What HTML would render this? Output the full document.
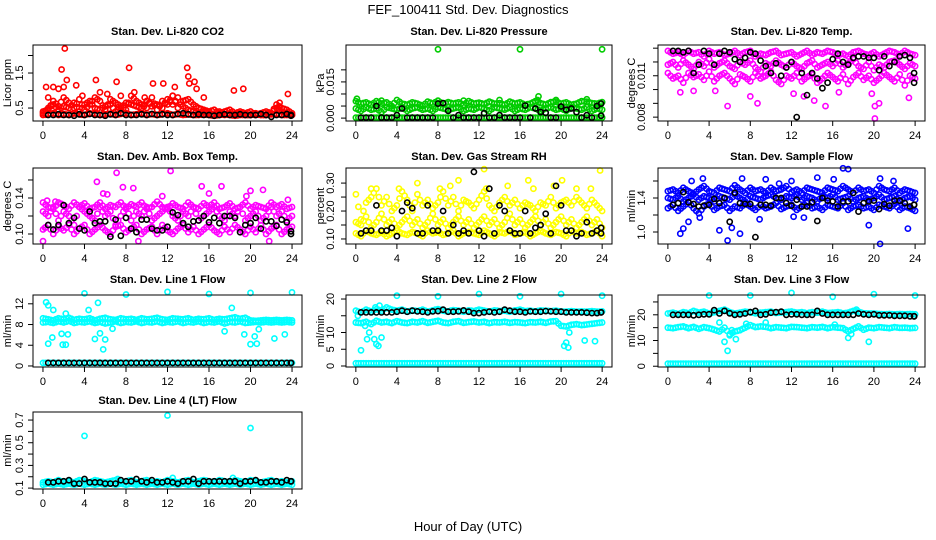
<!DOCTYPE html>
<html><head><meta charset="utf-8"><style>
html,body{margin:0;padding:0;background:#fff;}
svg{display:block;font-family:"Liberation Sans",sans-serif;}
</style></head><body>
<svg id="chart" width="936" height="540" viewBox="0 0 936 540">
<text x="468" y="14" text-anchor="middle" font-size="13">FEF_100411  Std. Dev. Diagnostics</text>
<text x="468" y="531" text-anchor="middle" font-size="13">Hour of Day (UTC)</text>
</svg>
<script>
const H = [0,0.5,1,1.5,2,2.5,3,3.5,4,4.5,5,5.5,6,6.5,7,7.5,8,8.5,9,9.5,10,10.5,11,11.5,12,12.5,13,13.5,14,14.5,15,15.5,16,16.5,17,17.5,18,18.5,19,19.5,20,20.5,21,21.5,22,22.5,23,23.5,24];
const xTicks = [0,4,8,12,16,20,24];

// Panel 1: CO2
const co2A = [0.35,0.5,0.6,0.45,0.55,0.5,0.65,0.4,0.6,0.7,0.5,0.45,0.55,0.6,0.4,0.5,0.65,0.6,0.55,0.5,0.7,0.55,0.6,0.5,0.75,0.6,0.8,0.55,0.45,0.4,0.35,0.4,0.35,0.3,0.4,0.3,0.35,0.3,0.35,0.3,0.3,0.35,0.3,0.3,0.35,0.5,0.4,0.35,0.3];
const co2B = [0.3,0.32,0.35,0.3,0.33,0.3,0.35,0.32,0.3,0.35,0.33,0.3,0.32,0.34,0.3,0.33,0.35,0.3,0.32,0.35,0.3,0.33,0.3,0.32,0.35,0.3,0.33,0.3,0.32,0.3,0.3,0.32,0.3,0.28,0.3,0.32,0.3,0.28,0.3,0.3,0.3,0.32,0.3,0.3,0.32,0.33,0.3,0.3,0.3];
const co2C = [0.4,0.45,0.7,0.55,0.8,0.65,0.5,0.75,0.45,0.6,0.8,0.7,0.45,0.75,0.65,0.55,0.45,0.85,0.7,0.6,0.5,0.8,0.45,0.7,0.6,0.85,0.5,0.7,0.75,0.6,0.5,0.45,0.4,0.45,0.35,0.4,0.45,0.35,0.4,0.35,0.4,0.3,0.35,0.4,0.35,0.6,0.5,0.45,0.35];
const co2OutH = [0.3,0.5,1,1.5,1.8,2,2.1,2.3,3.2,3.8,5.1,5.5,7.1,7.5,8.3,8.8,10.6,11.6,12.7,13.9,14,14.1,14.6,14.8,15.5,18.4,19.3,22.8,23.6,6.2,9.8,12.5];
const co2OutV = [1.1,0.8,1.1,1.05,1.6,1.1,2.2,1.3,1.15,0.85,1.3,0.95,1.25,0.85,1.65,0.95,1.2,1.2,1.1,1.65,1.4,1.2,1.25,1.05,0.8,1.0,1.05,0.65,0.9,0.9,0.8,0.85];
const co2K = [0.3,0.3,0.32,0.3,0.3,0.28,0.32,0.3,0.33,0.3,0.3,0.28,0.32,0.3,0.35,0.3,0.3,0.3,0.32,0.3,0.33,0.3,0.32,0.3,0.3,0.33,0.35,0.32,0.3,0.32,0.3,0.3,0.28,0.3,0.32,0.3,0.3,0.32,0.3,0.3,0.3,0.33,0.3,0.25,0.3,0.3,0.33,0.3,0.28];

// Panel 2: Pressure
const prA = [0.007,0.006,0.0065,0.0055,0.007,0.006,0.0065,0.005,0.0075,0.006,0.0055,0.0065,0.006,0.005,0.0068,0.006,0.0072,0.0058,0.0066,0.006,0.0065,0.0055,0.007,0.006,0.0064,0.0058,0.0068,0.006,0.0062,0.0055,0.0068,0.006,0.0065,0.0055,0.006,0.007,0.0062,0.0056,0.0066,0.0068,0.006,0.0065,0.0055,0.006,0.007,0.0068,0.0062,0.006,0.0066];
const prB = [0.0002,0.0002,0.0002,0.0002,0.0002,0.0002,0.0002,0.0002,0.0002,0.0002,0.0002,0.0002,0.0002,0.0002,0.0002,0.0002,0.0002,0.0002,0.0002,0.0002,0.0002,0.0002,0.0002,0.0002,0.0002,0.0002,0.0002,0.0002,0.0002,0.0002,0.0002,0.0002,0.0002,0.0002,0.0002,0.0002,0.0002,0.0002,0.0002,0.0002,0.0002,0.0002,0.0002,0.0002,0.0002,0.0002,0.0002,0.0002,0.0002];
const prC = [0.004,0.003,0.0045,0.0035,0.004,0.0025,0.0045,0.004,0.0035,0.0045,0.003,0.004,0.0045,0.0035,0.004,0.003,0.0045,0.004,0.0035,0.004,0.0045,0.003,0.004,0.0035,0.0045,0.004,0.003,0.0045,0.004,0.0035,0.0045,0.003,0.004,0.0035,0.0045,0.004,0.003,0.004,0.0045,0.0035,0.004,0.003,0.0045,0.004,0.0035,0.0045,0.003,0.004,0.0035];
const prOutH = [8,16,24,0.1,14,17.8,17.7,22.5,19.5,2.5,10.5];
const prOutV = [0.0285,0.0285,0.0285,0.008,0.0075,0.009,0.0075,0.0078,0.0075,0.0072,0.0072];
const prK = [0.0002,0.0002,0.0002,0.005,0.0002,0.0002,0.0002,0.0012,0.004,0.0002,0.0002,0.0002,0.0002,0.0002,0.0002,0.006,0.0062,0.003,0.0002,0.0012,0.0002,0.0002,0.0002,0.0002,0.002,0.0002,0.0002,0.0012,0.0002,0.0002,0.0002,0.0002,0.0052,0.0002,0.004,0.0025,0.0022,0.0002,0.0002,0.0048,0.0035,0.004,0.0025,0.0002,0.0012,0.0002,0.005,0.001,0.006];

// Panel 3: Li-820 Temp
const tmA = [0.0128,0.0126,0.0127,0.0125,0.0128,0.0126,0.0127,0.0124,0.0128,0.0126,0.0127,0.0125,0.0126,0.0128,0.0125,0.0127,0.0128,0.0124,0.0126,0.0125,0.0127,0.0128,0.0125,0.0126,0.0127,0.0124,0.0126,0.0128,0.0125,0.0127,0.0126,0.0128,0.0127,0.0125,0.0126,0.0124,0.0127,0.0128,0.0126,0.0125,0.0127,0.0124,0.0126,0.0128,0.0127,0.0125,0.0128,0.0126,0.0125];
const tmB = [0.0118,0.012,0.0116,0.0121,0.0118,0.0115,0.012,0.0117,0.0122,0.0116,0.0119,0.0121,0.0117,0.0115,0.012,0.0118,0.0121,0.0116,0.0113,0.0119,0.0117,0.0121,0.0118,0.0116,0.012,0.0117,0.0115,0.0119,0.0121,0.0116,0.0118,0.012,0.0117,0.0121,0.0116,0.0119,0.0122,0.0117,0.0115,0.012,0.0114,0.0118,0.0116,0.012,0.0121,0.0118,0.0115,0.0119,0.0117];
const tmC = [0.0112,0.0108,0.011,0.0105,0.0112,0.0109,0.0111,0.0107,0.0113,0.0106,0.011,0.0112,0.0108,0.0104,0.0111,0.0109,0.0106,0.0112,0.0108,0.011,0.0113,0.0107,0.0104,0.011,0.0108,0.0112,0.0106,0.0109,0.0111,0.0105,0.0108,0.0112,0.0109,0.0106,0.0111,0.0104,0.0109,0.0112,0.0107,0.011,0.0105,0.0108,0.0112,0.0109,0.0106,0.0111,0.0103,0.011,0.0108];
const tmOutH = [1.2,2.5,4.6,8,8.7,5.8,12.2,14.2,15.3,20.1,20.1,20.5,23.4,13.2,16.6,19.8];
const tmOutV = [0.0098,0.0099,0.0099,0.0095,0.009,0.0088,0.0097,0.0092,0.0088,0.0079,0.0088,0.009,0.0094,0.0095,0.0098,0.0097];
const tmK = [0.0128,0.0128,0.0127,0.0128,0.0112,0.0118,0.0128,0.0126,0.0118,0.0126,0.0128,0.0127,0.0122,0.0120,0.0123,0.0127,0.0126,0.0121,0.0117,0.0112,0.0119,0.0110,0.0116,0.0120,0.0080,0.0112,0.0096,0.0112,0.0108,0.0101,0.0105,0.0122,0.0126,0.0120,0.0118,0.0123,0.0124,0.0124,0.0123,0.0123,0.0114,0.0124,0.0117,0.0120,0.0124,0.0125,0.0123,0.0112,0.0105];

// Panel 4: Amb. Box Temp
const abA = [0.125,0.12,0.13,0.115,0.125,0.12,0.11,0.13,0.125,0.12,0.115,0.13,0.12,0.125,0.11,0.12,0.13,0.115,0.125,0.12,0.13,0.115,0.12,0.125,0.13,0.12,0.115,0.125,0.12,0.13,0.115,0.12,0.125,0.13,0.12,0.115,0.125,0.12,0.13,0.115,0.12,0.125,0.115,0.12,0.13,0.12,0.125,0.115,0.12];
const abB = [0.105,0.11,0.1,0.108,0.104,0.11,0.1,0.106,0.11,0.1,0.105,0.11,0.104,0.1,0.108,0.11,0.102,0.106,0.11,0.1,0.105,0.108,0.1,0.11,0.104,0.1,0.106,0.11,0.102,0.108,0.1,0.105,0.11,0.104,0.1,0.108,0.102,0.11,0.105,0.1,0.108,0.102,0.11,0.1,0.106,0.11,0.1,0.105,0.108];
const abC = [0.135,0.13,0.128,0.135,0.132,0.128,0.135,0.13,0.134,0.128,0.13,0.135,0.128,0.132,0.13,0.135,0.128,0.133,0.13,0.135,0.128,0.13,0.136,0.13,0.128,0.134,0.13,0.128,0.135,0.13,0.128,0.134,0.13,0.135,0.128,0.13,0.134,0.128,0.13,0.135,0.128,0.132,0.13,0.128,0.135,0.13,0.133,0.128,0.13];
const abOutH = [5.2,7.1,12.3,0.4,1.2,5.8,6.2,7.7,8.7,15.3,16,17.2,19.6,20,21.2,0,9.2,21.8,0.2,11.5,23.6];
const abOutV = [0.158,0.168,0.17,0.137,0.136,0.145,0.144,0.152,0.151,0.153,0.145,0.153,0.142,0.148,0.149,0.092,0.092,0.092,0.107,0.142,0.138];
const abK = [0.11,0.105,0.11,0.132,0.112,0.118,0.106,0.104,0.125,0.112,0.114,0.114,0.097,0.116,0.098,0.118,0.106,0.102,0.116,0.116,0.106,0.104,0.104,0.108,0.124,0.121,0.112,0.108,0.114,0.115,0.12,0.113,0.118,0.112,0.12,0.12,0.118,0.102,0.11,0.112,0.118,0.106,0.114,0.114,0.109,0.116,0.113,0.1,0.103];

// Panel 5: Gas Stream RH
const rhA = [0.12,0.11,0.13,0.12,0.115,0.125,0.11,0.12,0.13,0.12,0.115,0.125,0.12,0.11,0.13,0.12,0.125,0.115,0.12,0.13,0.11,0.12,0.125,0.12,0.115,0.13,0.12,0.11,0.125,0.12,0.13,0.115,0.12,0.125,0.11,0.12,0.13,0.12,0.115,0.125,0.12,0.11,0.13,0.12,0.125,0.115,0.12,0.13,0.11];
const rhB = [0.26,0.17,0.23,0.25,0.28,0.22,0.25,0.2,0.22,0.27,0.24,0.2,0.26,0.22,0.24,0.21,0.23,0.27,0.22,0.25,0.2,0.24,0.23,0.21,0.24,0.27,0.22,0.2,0.23,0.25,0.22,0.24,0.21,0.23,0.22,0.2,0.23,0.22,0.25,0.21,0.23,0.24,0.22,0.25,0.23,0.21,0.24,0.22,0.2];
const rhC = [0.16,0.15,0.18,0.14,0.16,0.19,0.15,0.17,0.14,0.16,0.18,0.15,0.17,0.14,0.16,0.19,0.15,0.17,0.14,0.16,0.18,0.15,0.17,0.14,0.16,0.18,0.15,0.17,0.14,0.16,0.19,0.15,0.17,0.14,0.16,0.18,0.15,0.17,0.14,0.16,0.18,0.15,0.17,0.14,0.16,0.18,0.15,0.17,0.14];
const rhOutH = [12.5,23.8,6,10,16.8,20.1,9.2,14.8,19.3,1.5,4.2,8.2,12.7,17.3,21.5,22.9];
const rhOutV = [0.35,0.345,0.3,0.31,0.31,0.31,0.29,0.29,0.29,0.28,0.28,0.28,0.28,0.28,0.28,0.28];
const rhK = [0.12,0.13,0.13,0.22,0.13,0.13,0.14,0.11,0.2,0.23,0.21,0.12,0.12,0.22,0.13,0.13,0.2,0.12,0.15,0.12,0.13,0.12,0.34,0.13,0.11,0.28,0.12,0.22,0.2,0.13,0.12,0.12,0.2,0.12,0.14,0.15,0.19,0.12,0.29,0.22,0.13,0.13,0.11,0.12,0.16,0.12,0.13,0.14,0.12];

// Panel 6: Sample Flow
const sfA = [1.4,1.38,1.42,1.36,1.4,1.44,1.38,1.42,1.4,1.36,1.42,1.4,1.38,1.44,1.4,1.36,1.42,1.4,1.38,1.42,1.44,1.4,1.38,1.42,1.4,1.44,1.38,1.42,1.4,1.36,1.42,1.4,1.44,1.38,1.4,1.42,1.36,1.4,1.42,1.38,1.4,1.44,1.38,1.4,1.42,1.36,1.4,1.42,1.38];
const sfB = [1.28,1.32,1.25,1.3,1.35,1.28,1.22,1.3,1.34,1.26,1.3,1.32,1.25,1.3,1.28,1.34,1.3,1.26,1.32,1.28,1.3,1.34,1.27,1.3,1.32,1.26,1.3,1.34,1.28,1.3,1.26,1.32,1.3,1.28,1.34,1.26,1.3,1.32,1.28,1.3,1.26,1.32,1.3,1.28,1.33,1.26,1.3,1.28,1.25];
const sfC = [1.48,1.5,1.46,1.52,1.48,1.45,1.5,1.54,1.48,1.46,1.52,1.5,1.48,1.55,1.5,1.46,1.52,1.48,1.5,1.46,1.52,1.48,1.5,1.54,1.47,1.5,1.46,1.52,1.5,1.48,1.46,1.52,1.5,1.48,1.54,1.5,1.46,1.52,1.48,1.5,1.46,1.54,1.5,1.48,1.52,1.46,1.5,1.48,1.46];
const sfOutH = [17,17.5,3.4,7.2,20.6,1.2,5,5.8,6.2,7,20.6,23.3,14.5,9.5,12,2.3,16.1,19.5,1.5,2,8.9,12.2,3.1,10.8,13.2,21.9];
const sfOutV = [1.75,1.74,1.63,1.63,1.63,0.98,1.02,0.9,1.05,0.98,0.86,1.04,1.64,1.62,1.6,1.6,1.62,1.08,1.04,1.12,1.15,1.18,1.17,1.57,1.17,1.6];
const sfK = [1.32,1.34,1.47,1.35,1.33,1.3,1.31,1.32,1.39,1.34,1.4,1.12,1.46,1.34,1.33,1.33,0.94,1.32,1.32,1.31,1.4,1.4,1.34,1.31,1.38,1.3,1.3,1.35,1.13,1.4,1.37,1.36,1.3,1.36,1.36,1.46,1.24,1.34,1.36,1.37,1.27,1.33,1.31,1.37,1.37,1.34,1.3,1.32,1.32];

// Panel 7: Line 1 Flow
const l1A = [9.2,9,8.8,9.2,9,9.3,8.9,9.1,9,9.2,8.8,9.1,9.3,9,8.9,9.2,9,9.1,8.9,9.2,9,9.1,9.3,9,8.9,9.2,9.1,9,9.2,8.9,9.1,9,9.2,8.9,9.1,9,9.2,9.4,9.1,9.3,8.8,8.7,8.8,8.9,8.8,8.9,8.8,8.9,8.8];
const l1B = [8.4,8.5,8.3,8.6,8.4,8.7,8.3,8.5,8.4,8.6,8.3,8.5,8.2,8.4,8.6,8.3,8.5,8.4,8.6,8.3,8.5,8.4,8.6,8.3,8.5,8.4,8.6,8.3,8.5,8.4,8.6,8.3,8.5,8.4,8.6,8.2,8.5,8.4,8.6,8.3,8.4,8.5,8.4,8.5,8.4,8.5,8.4,8.5,8.4];
const l1C = [0.6,0.6,0.6,0.6,0.6,0.6,0.6,0.6,0.6,0.6,0.6,0.6,0.6,0.6,0.6,0.6,0.6,0.6,0.6,0.6,0.6,0.6,0.6,0.6,0.6,0.6,0.6,0.6,0.6,0.6,0.6,0.6,0.6,0.6,0.6,0.6,0.6,0.6,0.6,0.6,0.6,0.6,0.6,0.6,0.6,0.6,0.6,0.6,0.6];
const l1OutH = [4,8,12,16,20,24,0.3,0.5,1,5.3,0.5,0.9,1.8,1.9,2.2,2.4,5,5.8,6,5.5,18.2,17.5,19.4,20,20.4,20.6,20.8,22.3,23.3,6.7,4.4,2.2];
const l1OutV = [14,13.8,14.3,13.9,14.1,14.2,12.3,11.7,10.8,12.2,4.3,5.5,6.2,4.1,4.1,6.1,5.2,3.2,5.1,6.3,11.2,6.7,6.1,4.2,5.7,4.3,7.1,5.3,6.1,7.2,10.8,10.1];
const l1K = [0.6,0.6,0.6,0.6,0.6,0.6,0.6,0.6,0.6,0.6,0.6,0.6,0.6,0.6,0.6,0.6,0.6,0.6,0.6,0.6,0.6,0.6,0.6,0.6,0.6,0.6,0.6,0.6,0.6,0.6,0.6,0.6,0.6,0.6,0.6,0.6,0.6,0.6,0.6,0.6,0.6,0.6,0.6,0.6,0.6,0.6,0.6,0.6,0.6];

// Panel 8: Line 2 Flow
const l2A = [16.5,16,16.8,16.2,17,16.5,17.5,16.8,16.5,16.8,16.2,16.6,16.4,16.8,16.2,16.6,17,16.5,16.3,16.7,16.5,16.2,16.6,16.4,16.8,16.5,16.2,16.6,16.4,16.5,16.2,16.6,16.8,16.4,16.5,16.3,16.6,16.5,16.4,16.5,16.3,16.2,16.4,16.2,16.3,16.2,16.4,16.2,16.3];
const l2B = [13,12.8,13.2,12.5,13.5,13,13.2,12.8,13.4,13,12.8,13.2,13,13.4,12.9,13.2,13.5,13,12.8,13.2,13.4,12.9,13.1,13.3,13,13.2,12.8,13.1,13,13.2,12.9,13.1,13,12.8,13.1,13,13.2,12.9,13.3,13.4,12,11.8,12.3,12.5,12.2,12.4,12.6,12.8,13];
const l2C = [0.8,0.8,0.8,0.8,0.8,0.8,0.8,0.8,0.8,0.8,0.8,0.8,0.8,0.8,0.8,0.8,0.8,0.8,0.8,0.8,0.8,0.8,0.8,0.8,0.8,0.8,0.8,0.8,0.8,0.8,0.8,0.8,0.8,0.8,0.8,0.8,0.8,0.8,0.8,0.8,0.8,0.8,0.8,0.8,0.8,0.8,0.8,0.8,0.8];
const l2OutH = [4,8,12,16,20,24,0.5,1.1,1.3,1.8,2,2.2,2.5,0.9,20.3,20.5,20.7,20.8,22.3,23.3,1.9,2.3,0,0.2];
const l2OutV = [21,20.8,21.5,20.8,21.5,21,4.7,8,10,8,6.5,6,8.5,12,6,7,5.5,10,7.6,7.4,17.5,18,13,15];
const l2K = [16,16,16,16,16,16,16,16.2,16.5,16.2,16.5,16.3,16.2,16,16.3,16.4,16.8,16.2,16.2,16.3,16.6,16.2,15.8,15.8,16,16.2,16,16.2,16.8,16.5,16.2,16.2,16,16.3,16.2,16.2,16.4,16.3,16.2,16.2,16,16,16,16,15.9,15.8,15.8,16,16];

// Panel 9: Line 3 Flow
const l3A = [20.5,20.8,20.3,21,20.6,21.5,20.8,21.2,20.5,21,21.5,22,21,20.5,20.8,21.2,21,20.6,20.8,21,21.2,20.7,20.9,21,21.3,20.8,21,20.6,21,20.8,21.2,20.7,20.8,21,20.6,20.8,21.5,21.2,20.6,20.5,20.5,20.3,20.2,20.3,20.2,20.3,20.2,20.3,20.2];
const l3B = [15,14.8,15.2,15.5,14.8,15.3,14.5,15.2,14.8,14.2,13.5,15,12.5,13.5,14,15,16,15.2,15.5,15.3,14.8,15.2,15,14.8,15.3,15.2,15,14.8,15.2,15,15.3,14.8,15.2,15,14.8,13.5,14.5,15.5,14.2,15,14.8,15.2,15,14.8,15.2,14.9,15,14.8,14.9];
const l3C = [1,1,1,1,1,1,1,1,1,1,1,1,1,1,1,1,1,1,1,1,1,1,1,1,1,1,1,1,1,1,1,1,1,1,1,1,1,1,1,1,1,1,1,1,1,1,1,1,1];
const l3OutH = [4,8,12,16,20,24,5.8,5.5,6.6,5,19.5,17.5,17.8,18.3,6,6.2,7.6,9.5,16.2];
const l3OutV = [27.5,27.5,28.5,27,28,27.5,6,9.5,10.5,17,9.5,11,12.5,22,12,14,16.5,17,16.2];
const l3K = [20,20,20,20,19.8,20,20.2,20.2,21.8,20.5,21.5,20.6,20,20.2,20.5,21,21.5,20,20.2,20.8,21,21.2,20,20.2,20.2,20,20,20,21.5,20.5,20,20,20,20,20,20,20.5,20.2,20,20.2,19.8,19.8,19.8,19.6,19.6,19.6,19.4,19.4,19.4];

// Panel 10: Line 4 (LT) Flow
const l4A = [0.15,0.16,0.15,0.17,0.15,0.16,0.15,0.17,0.16,0.15,0.17,0.16,0.15,0.16,0.17,0.15,0.16,0.17,0.15,0.16,0.17,0.15,0.16,0.15,0.17,0.16,0.15,0.16,0.17,0.15,0.16,0.17,0.16,0.15,0.17,0.16,0.15,0.17,0.16,0.15,0.17,0.16,0.15,0.16,0.17,0.15,0.16,0.15,0.16];
const l4B = [0.13,0.14,0.13,0.14,0.13,0.14,0.13,0.14,0.13,0.14,0.13,0.14,0.13,0.14,0.13,0.14,0.13,0.14,0.13,0.14,0.13,0.14,0.13,0.14,0.13,0.14,0.13,0.14,0.13,0.14,0.13,0.14,0.13,0.14,0.13,0.14,0.13,0.14,0.13,0.14,0.13,0.14,0.13,0.14,0.13,0.14,0.13,0.14,0.13];
const l4OutH = [4,12,20,18.3,7.2,12.5];
const l4OutV = [0.56,0.74,0.63,0.19,0.18,0.19];
const l4K = [0.15,0.15,0.16,0.16,0.17,0.14,0.14,0.18,0.15,0.15,0.15,0.14,0.14,0.14,0.17,0.16,0.16,0.18,0.16,0.15,0.17,0.15,0.15,0.16,0.15,0.14,0.16,0.16,0.18,0.14,0.16,0.16,0.16,0.16,0.16,0.16,0.16,0.14,0.16,0.16,0.17,0.15,0.15,0.16,0.16,0.15,0.17,0.16,0.16];

const NS = 'http://www.w3.org/2000/svg';
const svg = document.getElementById('chart');
function mk(tag, attrs, parent) {
  const e = document.createElementNS(NS, tag);
  for (const k in attrs) e.setAttribute(k, attrs[k]);
  (parent || svg).appendChild(e);
  return e;
}
const colX = [[33,302,8,20],[346,612,321,331],[658,925,632,642]];
const rowY = [[45,121,35],[168,244,160],[295,367,283],[412,489,404]];

const panels = [
  {key:'co2',title:'Stan. Dev. Li-820 CO2',ylab:'Licor ppm',c:0,r:0,y0:0.13,y1:2.3,ticks:[0.5,1,1.5,2],labels:['0.5','','1.5',''],col:'#ff0000',series:[co2B,co2A,co2C],oh:co2OutH,ov:co2OutV,k:co2K},
  {key:'pressure',title:'Stan. Dev. Li-820 Pressure',ylab:'kPa',c:1,r:0,y0:-0.0012,y1:0.0303,ticks:[0,0.005,0.01,0.015,0.02],labels:['0.000','','','0.015',''],col:'#00cc00',series:[prB,prC,prA],oh:prOutH,ov:prOutV,k:prK},
  {key:'licor-temp',title:'Stan. Dev. Li-820 Temp.',ylab:'degrees C',c:2,r:0,y0:0.00772,y1:0.01323,ticks:[0.008,0.009,0.01,0.011,0.012,0.013],labels:['0.008','','','0.011','',''],col:'#ff00ff',series:[tmC,tmB,tmA],oh:tmOutH,ov:tmOutV,k:tmK},
  {key:'amb-box-temp',title:'Stan. Dev. Amb. Box Temp.',ylab:'degrees C',c:0,r:1,y0:0.0889,y1:0.1733,ticks:[0.1,0.12,0.14,0.16],labels:['0.10','','0.14',''],col:'#ff00ff',series:[abB,abA,abC],oh:abOutH,ov:abOutV,k:abK},
  {key:'gas-rh',title:'Stan. Dev. Gas Stream RH',ylab:'percent',c:1,r:1,y0:0.082,y1:0.354,ticks:[0.1,0.15,0.2,0.25,0.3],labels:['0.10','','0.20','','0.30'],col:'#ffff00',series:[rhA,rhC,rhB],oh:rhOutH,ov:rhOutV,k:rhK},
  {key:'sample-flow',title:'Stan. Dev. Sample Flow',ylab:'ml/min',c:2,r:1,y0:0.859,y1:1.753,ticks:[1.0,1.2,1.4,1.6],labels:['1.0','','1.4',''],col:'#0000ff',series:[sfB,sfA,sfC],oh:sfOutH,ov:sfOutV,k:sfK},
  {key:'line1-flow',title:'Stan. Dev. Line 1 Flow',ylab:'ml/min',c:0,r:2,y0:-0.2,y1:13.7,ticks:[0,4,8,12],labels:['0','4','8','12'],col:'#00ffff',series:[l1C,l1B,l1A],oh:l1OutH,ov:l1OutV,k:l1K},
  {key:'line2-flow',title:'Stan. Dev. Line 2 Flow',ylab:'ml/min',c:1,r:2,y0:-0.3,y1:21.2,ticks:[0,5,10,15,20],labels:['0','5','10','','20'],col:'#00ffff',series:[l2C,l2B,l2A],oh:l2OutH,ov:l2OutV,k:l2K},
  {key:'line3-flow',title:'Stan. Dev. Line 3 Flow',ylab:'ml/min',c:2,r:2,y0:-0.3,y1:27.7,ticks:[0,5,10,15,20,25],labels:['0','','10','','20',''],col:'#00ffff',series:[l3C,l3B,l3A],oh:l3OutH,ov:l3OutV,k:l3K},
  {key:'line4-flow',title:'Stan. Dev. Line 4 (LT) Flow',ylab:'ml/min',c:0,r:3,y0:0.092,y1:0.771,ticks:[0.1,0.2,0.3,0.4,0.5,0.6,0.7],labels:['0.1','','0.3','','0.5','','0.7'],col:'#00ffff',series:[l4B,l4A],oh:l4OutH,ov:l4OutV,k:l4K}
];

panels.forEach(p => {
  const [xl, xr, ylabX, tickLabX] = colX[p.c];
  const [yt, yb, titleY] = rowY[p.r];
  const g = mk('g', {});
  
  
  const xs = h => xl + (h + 0.96) / 25.92 * (xr - xl);
  const ys = v => yb - (v - p.y0) / (p.y1 - p.y0) * (yb - yt);
  const t = mk('text', {x:(xl+xr)/2, y:titleY, 'text-anchor':'middle', 'font-size':'11', 'font-weight':'bold'}, g);
  t.textContent = p.title;
  
  
  const yl = mk('text', {x:ylabX, y:(yt+yb)/2, 'text-anchor':'middle', 'font-size':'11', transform:'rotate(-90 '+ylabX+' '+((yt+yb)/2)+')', 'dominant-baseline':'central'}, g);
  yl.textContent = p.ylab;
  
  
  const pts = mk('g', {fill:'none', 'stroke-width':'1.6'}, g);
  
  
  const dot = (h, v, col) => {
    const c = mk('circle', {cx:xs(h).toFixed(1), cy:ys(v).toFixed(1), r:'2.6', stroke:col}, pts);
    
    
  };
  p.series.forEach(arr => arr.forEach((v, i) => dot(H[i], v, p.col)));
  p.series.forEach(arr => arr.forEach((v, i) => { if (i < 48) dot(H[i] + 0.25, (v + arr[i+1]) / 2, p.col); }));
  p.oh.forEach((h, i) => dot(h, p.ov[i], p.col));
  p.k.forEach((v, i) => dot(Math.min(23.9, H[i] + 0.5), v, '#000'));
  const box = mk('rect', {x:xl, y:yt, width:xr-xl, height:yb-yt, fill:'none', stroke:'#000', 'stroke-width':'1'}, g);
  
  
  xTicks.forEach(h => {
    const x = xs(h);
    const tk = mk('line', {x1:x, x2:x, y1:yb, y2:yb+5, stroke:'#000'}, g);
    
    
    const lb = mk('text', {x:x, y:yb+18, 'text-anchor':'middle', 'font-size':'11'}, g);
    lb.textContent = h;
    
    
  });
  p.ticks.forEach((v, i) => {
    const y = ys(v);
    const tk = mk('line', {x1:xl-5, x2:xl, y1:y, y2:y, stroke:'#000'}, g);
    
    
    if (p.labels[i]) {
      const lb = mk('text', {x:tickLabX, y:y, 'text-anchor':'middle', 'font-size':'11', 'dominant-baseline':'central', transform:'rotate(-90 '+tickLabX+' '+y+')'}, g);
      lb.textContent = p.labels[i];
      
      
    }
  });
});
</script>
</body></html>
